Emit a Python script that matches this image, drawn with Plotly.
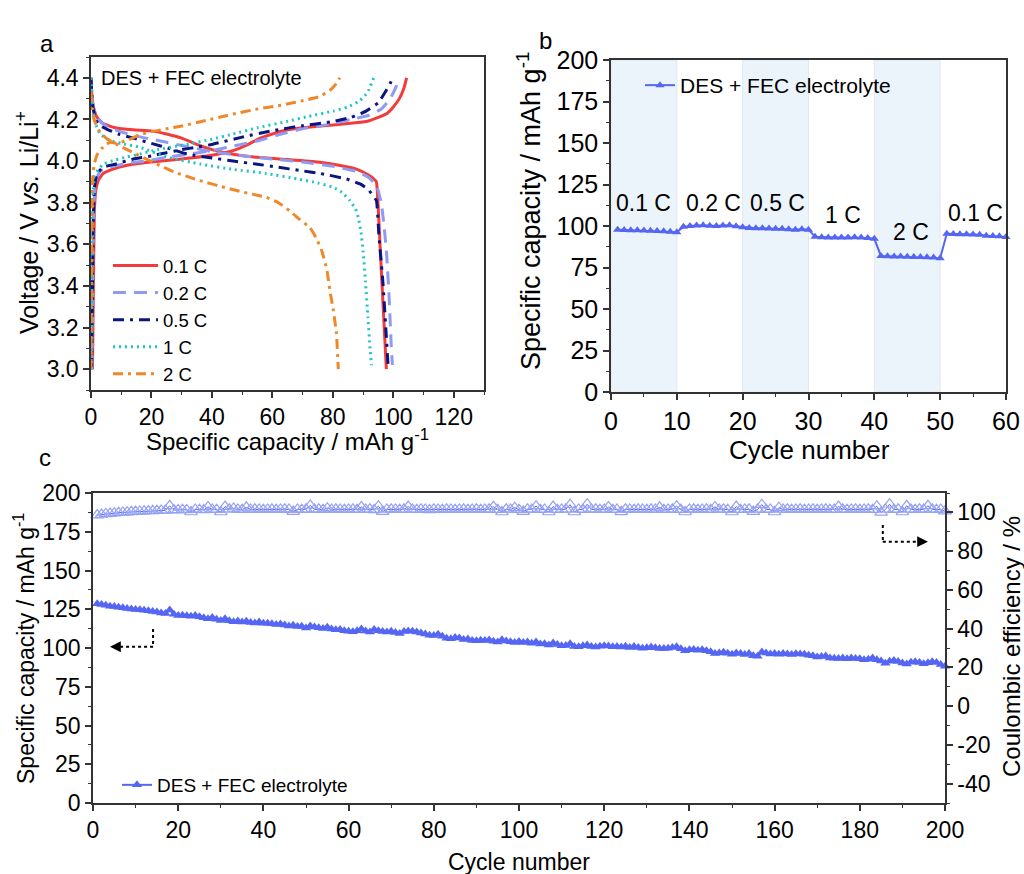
import plotly.graph_objects as go

FONT = "Liberation Sans, Arial, sans-serif"
W, H = 1024, 874

# ---------------- Panel a: charge/discharge profiles ----------------
rates_a = ["0.1 C", "0.2 C", "0.5 C", "1 C", "2 C"]
colors_a = ["#f23b3b", "#8f9bf2", "#0b1580", "#1fc4c8", "#f0882a"]
dash_a = ["solid", "13px,8px", "11px,6px,3px,6px", "2px,4px", "10px,5px,3px,5px"]

chg_x = {
    "0.1 C": [0.5, 0.8, 1.1, 1.6, 2.5, 4, 7, 12, 20, 30, 40, 47, 52, 56, 60, 65, 70, 77, 85, 91, 95, 98, 100, 102, 103.5, 104.4],
    "0.2 C": [0.3, 0.6, 1, 1.5, 3, 6, 12, 18, 25, 32, 40, 48, 56, 63, 70, 78, 86, 92, 96, 99, 101, 101.8],
    "0.5 C": [0.2, 0.5, 0.8, 1.2, 2, 4, 8, 14, 20, 25, 30, 35, 40, 50, 60, 70, 80, 86, 91, 95, 97.7, 99.2, 99.8],
    "1 C": [0.2, 0.4, 0.7, 1.2, 2.5, 4.1, 8, 12, 16.2, 22, 31.6, 40, 47, 55, 64.7, 72, 80.1, 85, 88.9, 91.5, 93.5],
    "2 C": [0, 0.2, 0.5, 1, 2, 3.5, 5, 6.5, 8.5, 12, 16, 19.5, 25, 30.5, 38, 47, 55, 63.6, 70, 75.7, 79, 81, 82.3],
}
chg_y = {
    "0.1 C": [3.0, 3.4, 3.75, 3.86, 3.91, 3.94, 3.96, 3.98, 3.995, 4.01, 4.028, 4.05, 4.08, 4.11, 4.13, 4.15, 4.16, 4.17, 4.18, 4.19, 4.21, 4.23, 4.26, 4.3, 4.35, 4.4],
    "0.2 C": [3.0, 3.5, 3.8, 3.9, 3.95, 3.97, 3.99, 4.0, 4.018, 4.032, 4.05, 4.075, 4.1, 4.13, 4.155, 4.175, 4.2, 4.22, 4.25, 4.3, 4.36, 4.4],
    "0.5 C": [3.0, 3.4, 3.75, 3.88, 3.94, 3.97, 3.985, 4.01, 4.025, 4.04, 4.055, 4.067, 4.08, 4.115, 4.146, 4.17, 4.19, 4.21, 4.24, 4.28, 4.34, 4.38, 4.4],
    "1 C": [3.0, 3.5, 3.85, 3.93, 3.96, 3.986, 4.005, 4.02, 4.034, 4.055, 4.08, 4.105, 4.13, 4.16, 4.19, 4.215, 4.24, 4.26, 4.29, 4.33, 4.4],
    "2 C": [3.0, 3.5, 3.9, 3.98, 4.03, 4.06, 4.08, 4.09, 4.085, 4.1, 4.125, 4.14, 4.155, 4.17, 4.195, 4.226, 4.25, 4.27, 4.29, 4.31, 4.34, 4.37, 4.4],
}
dis_x = {
    "0.1 C": [0, 0.4, 1, 2, 4, 8, 14, 20, 25, 30, 35, 40, 47, 55, 65, 75, 82, 88, 91.5, 93.5, 94.4, 95, 95.6, 96.3, 97, 97.7],
    "0.2 C": [0, 0.5, 1.5, 3, 6, 10, 15, 20, 25, 30, 35, 40, 50, 60, 70, 80, 88, 92, 94.5, 96, 97, 97.8, 98.6, 99.3, 99.7],
    "0.5 C": [0, 0.5, 1.5, 3, 5, 9, 14, 20, 26, 32, 40, 47, 55, 62, 69, 76, 84.5, 89, 91.5, 93, 94.4, 95.2, 96.6, 97.5, 98.3],
    "1 C": [0, 0.5, 1.5, 3, 6, 10, 16.2, 25, 36, 47, 58, 68, 75, 80.1, 83, 85.6, 87.5, 88.4, 89.3, 90, 90.8, 91.6, 92.3, 92.8],
    "2 C": [0, 0.3, 1, 2.5, 5, 8.5, 14, 21.7, 28, 36, 45, 52, 58, 62, 65.8, 69, 72.4, 74.5, 76.3, 78, 79, 80.2, 81.2, 81.8],
}
dis_y = {
    "0.1 C": [4.4, 4.3, 4.25, 4.21, 4.18, 4.16, 4.15, 4.145, 4.13, 4.11, 4.08, 4.055, 4.033, 4.018, 4.007, 3.995, 3.98, 3.96, 3.935, 3.915, 3.9, 3.78, 3.6, 3.4, 3.2, 3.0],
    "0.2 C": [4.4, 4.28, 4.22, 4.19, 4.16, 4.14, 4.12, 4.105, 4.09, 4.075, 4.06, 4.045, 4.025, 4.01, 3.995, 3.975, 3.95, 3.92, 3.88, 3.8, 3.68, 3.55, 3.35, 3.12, 3.02],
    "0.5 C": [4.4, 4.27, 4.2, 4.17, 4.155, 4.13, 4.11, 4.085, 4.06, 4.033, 4.015, 4.0, 3.985, 3.97, 3.955, 3.94, 3.914, 3.89, 3.866, 3.84, 3.81, 3.65, 3.41, 3.2, 3.01],
    "1 C": [4.4, 4.25, 4.18, 4.13, 4.1, 4.085, 4.066, 4.02, 3.986, 3.96, 3.94, 3.915, 3.895, 3.874, 3.85, 3.81, 3.77, 3.73, 3.66, 3.57, 3.42, 3.25, 3.1, 3.02],
    "2 C": [4.33, 4.25, 4.2, 4.15, 4.11, 4.08, 4.04, 3.986, 3.945, 3.906, 3.87, 3.845, 3.826, 3.8, 3.76, 3.72, 3.68, 3.63, 3.57, 3.48, 3.38, 3.28, 3.17, 3.0],
}

# ---------------- Panel b: rate capability ----------------
cycles_b = list(range(1, 61))
cap_b = [97.8, 97.6, 97.5, 97.4, 97.3, 97.2, 97.0, 96.8, 96.6, 96.2,
         99.5, 100.0, 100.3, 100.5, 100.2, 100.0, 100.3, 100.4, 99.8, 99.3,
         98.8, 98.6, 98.7, 98.5, 98.4, 98.3, 98.0, 97.8, 98.0, 97.8,
         93.5, 93.2, 93.0, 93.0, 93.1, 93.0, 93.2, 93.1, 92.8, 92.3,
         82.0, 81.8, 81.7, 81.6, 81.5, 81.4, 81.3, 81.2, 81.0, 80.6,
         95.3, 95.2, 95.1, 95.0, 94.9, 94.7, 94.2, 94.0, 93.8, 93.4]
band_starts = [0, 20, 40]
band_ends = [10, 30, 50]
rate_labels = ["0.1 C", "0.2 C", "0.5 C", "1 C", "2 C", "0.1 C"]
rate_label_x = [4.9, 15.5, 25.3, 35.2, 45.6, 55.4]
rate_label_y = [114, 114, 114, 106.5, 96.5, 108]

# ---------------- Panel c: long-term cycling ----------------
cycles_c = list(range(1, 201))
cap_c = [128.5, 128.0, 127.6, 127.0, 126.8, 126.3, 126.0, 125.5, 125.2, 124.8,
         124.6, 124.3, 124.0, 123.5, 123.2, 122.6, 122.2, 124.5, 121.8, 121.0,
         121.2, 120.8, 120.5, 120.9, 120.2, 119.5, 118.8, 119.6, 118.5, 117.8,
         118.9, 117.6, 117.0, 117.4, 116.8, 117.2, 116.5, 116.2, 116.8, 115.9,
         116.0, 115.6, 115.2, 115.5, 114.8, 114.2, 114.6, 113.8, 114.0, 112.9,
         114.2, 113.5, 113.0, 112.6, 113.4, 112.2, 111.8, 112.0, 111.2, 110.8,
         110.5, 111.2, 112.3, 111.0, 110.4, 112.0, 111.1, 110.6, 110.3, 110.8,
         110.0, 109.4, 110.6, 111.0, 110.8, 110.3, 109.6, 109.0, 108.2, 108.0,
         108.8, 107.6, 106.3, 106.0, 106.8, 106.4, 105.5, 105.8, 104.9, 104.6,
         105.0, 104.8, 105.2, 104.4, 103.8, 105.4, 104.5, 104.0, 103.6, 104.2,
         103.5, 103.8, 103.0, 103.9, 102.6, 102.8, 102.0, 103.2, 102.3, 101.4,
         101.6, 102.8, 101.0, 100.8, 101.4, 101.9, 101.0, 100.6, 101.2, 101.5,
         101.3, 100.8, 101.0, 100.6, 101.2, 100.4, 100.9, 100.3, 99.8, 100.2,
         100.6, 100.1, 99.7, 99.6, 99.9, 100.4, 100.8, 99.5, 98.2, 98.8,
         99.0, 98.6, 98.8, 98.3, 97.6, 96.5, 96.8, 97.2, 96.6, 96.0,
         96.8, 96.4, 95.8, 96.5, 95.0, 94.6, 97.4, 96.8, 96.2, 96.5,
         96.0, 96.4, 96.1, 95.8, 96.3, 96.2, 95.9, 95.4, 95.0, 94.2,
         94.5, 94.8, 93.6, 93.4, 93.2, 93.5, 93.1, 93.6, 93.3, 93.0,
         92.4, 92.8, 93.6, 92.5, 91.6, 90.2, 91.5, 92.0, 91.3, 90.4,
         89.6, 90.8, 91.2, 90.6, 89.8, 90.5, 91.2, 90.6, 89.4, 88.2]
ce_c = [98.6, 98.9, 99.2, 99.4, 99.6, 99.8, 100.0, 100.1, 100.3, 100.4,
        100.5, 100.6, 100.7, 100.8, 100.9, 101.0, 101.0, 103.4, 101.2, 101.3,
        101.4, 101.3, 100.2, 101.5, 101.4, 101.3, 102.8, 101.5, 101.4, 100.2,
        103.0, 101.6, 102.0, 101.5, 101.4, 102.6, 101.5, 101.6, 101.5, 101.4,
        101.5, 101.6, 101.4, 101.5, 101.6, 101.5, 100.4, 101.5, 101.4, 101.6,
        103.6, 101.5, 101.6, 101.4, 102.2, 101.5, 101.6, 101.5, 101.4, 101.5,
        101.6, 101.4, 102.8, 101.5, 101.6, 101.3, 103.2, 100.4, 101.5, 101.6,
        101.5, 101.4, 101.6, 103.0, 101.5, 101.4, 101.6, 101.5, 101.3, 101.6,
        101.5, 101.4, 101.6, 101.5, 101.4, 101.5, 101.6, 101.4, 101.5, 101.6,
        101.4, 101.5, 101.6, 102.9, 101.4, 100.2, 101.6, 101.5, 102.4, 101.4,
        100.4, 101.6, 101.5, 103.2, 101.4, 101.5, 100.2, 103.0, 101.4, 101.5,
        101.6, 104.0, 100.2, 101.5, 101.4, 104.2, 101.5, 101.6, 101.4, 101.5,
        102.8, 101.4, 101.5, 100.3, 101.6, 101.5, 101.4, 101.6, 101.5, 101.4,
        101.6, 101.5, 102.6, 101.4, 101.5, 101.6, 103.2, 101.4, 100.2, 101.5,
        101.6, 101.4, 101.5, 101.6, 101.4, 102.8, 101.5, 101.6, 101.4, 100.2,
        103.0, 101.4, 101.5, 101.6, 100.4, 101.5, 104.0, 101.4, 101.5, 100.2,
        102.4, 101.5, 101.6, 101.4, 101.5, 101.6, 101.4, 101.5, 101.6, 101.4,
        101.5, 101.6, 101.4, 101.5, 103.0, 101.6, 101.4, 101.5, 101.6, 101.4,
        101.5, 101.6, 101.4, 103.2, 100.0, 101.5, 104.2, 101.4, 101.6, 100.2,
        103.4, 101.5, 101.4, 101.6, 101.5, 103.4, 101.6, 101.4, 101.5, 100.6]
ce_tickvals = [-40, -20, 0, 20, 40, 60, 80, 100]
ce_ticktext = ["-40", "-20", "0", "20", "40", "60", "80", "100"]

BLUE = "#5566f2"
BLUE_LIGHT = "#95a2f4"
AXC = "#333333"

fig = go.Figure()

# Panel a traces
for i, r in enumerate(rates_a):
    xs = chg_x[r] + [None] + dis_x[r]
    ys = chg_y[r] + [None] + dis_y[r]
    fig.add_trace(go.Scatter(
        x=xs, y=ys, mode="lines", name=r, xaxis="x", yaxis="y",
        line=dict(color=colors_a[i], width=3, dash=dash_a[i], shape="spline", smoothing=0.4),
        connectgaps=False, legend="legend"))

# Panel b
for s, e in zip(band_starts, band_ends):
    fig.add_shape(type="rect", xref="x2", yref="y2", x0=s, x1=e, y0=0, y1=200,
                  fillcolor="#ebf3fb", line=dict(width=1, color="#e3e8ee"), layer="below")
fig.add_trace(go.Scatter(
    x=cycles_b, y=cap_b, mode="lines+markers", name="DES + FEC electrolyte",
    xaxis="x2", yaxis="y2", legend="legend2", cliponaxis=False,
    line=dict(color=BLUE, width=2), marker=dict(symbol="triangle-up", size=8, color=BLUE)))
for t, lx, ly in zip(rate_labels, rate_label_x, rate_label_y):
    fig.add_annotation(x=lx, y=ly, xref="x2", yref="y2", text=t, showarrow=False,
                       font=dict(family=FONT, size=23, color="black"))

# Panel c
fig.add_trace(go.Scatter(
    x=cycles_c, y=ce_c, mode="lines+markers", name="CE", showlegend=False,
    xaxis="x3", yaxis="y4", cliponaxis=False,
    line=dict(color=BLUE, width=1),
    marker=dict(symbol="triangle-up-open", size=11, color=BLUE_LIGHT, line=dict(width=1.2))))
fig.add_trace(go.Scatter(
    x=cycles_c, y=cap_c, mode="lines+markers", name="DES + FEC electrolyte",
    xaxis="x3", yaxis="y3", legend="legend3", cliponaxis=False,
    line=dict(color=BLUE, width=2), marker=dict(symbol="triangle-up", size=9, color=BLUE)))

# dotted arrows in panel c
dot = dict(color="black", width=2, dash="dot")
fig.add_shape(type="line", xref="x3", yref="y3", x0=14.1, x1=14.1, y0=112.3, y1=100.8, line=dot)
fig.add_shape(type="line", xref="x3", yref="y3", x0=14.1, x1=5.5, y0=100.8, y1=100.8, line=dot)
fig.add_annotation(x=4.0, y=100.8, xref="x3", yref="y3", ax=8, ay=0, text="", showarrow=True,
                   arrowhead=2, arrowsize=1.2, arrowwidth=1.8, arrowcolor="black")
fig.add_shape(type="line", xref="x3", yref="y3", x0=185.4, x1=185.4, y0=179.4, y1=168.6, line=dot)
fig.add_shape(type="line", xref="x3", yref="y3", x0=185.4, x1=194.5, y0=168.6, y1=168.6, line=dot)
fig.add_annotation(x=196.0, y=168.6, xref="x3", yref="y3", ax=-8, ay=0, text="", showarrow=True,
                   arrowhead=2, arrowsize=1.2, arrowwidth=1.8, arrowcolor="black")


def px(x):
    return x / W


def py(y):
    return 1 - y / H


def ax_style(size, minor_dtick, **kw):
    d = dict(showline=True, linecolor=AXC, linewidth=1.5, mirror=True, ticks="outside",
             ticklen=6, tickwidth=1.5, tickcolor=AXC, showgrid=False, zeroline=False,
             automargin=False,
             tickfont=dict(family=FONT, size=size, color="black"),
             minor=dict(ticks="outside", ticklen=3, tickwidth=1.2, tickcolor=AXC, showgrid=False,
                        tickmode="linear", tick0=0, dtick=minor_dtick))
    d.update(kw)
    return d


layout = dict(
    width=W, height=H, margin=dict(l=0, r=0, t=0, b=0, autoexpand=False),
    paper_bgcolor="white", plot_bgcolor="white",
    font=dict(family=FONT, color="black"),
    xaxis=ax_style(23, 10, domain=[px(91), px(484)], range=[0, 130], dtick=20, anchor="y"),
    yaxis=ax_style(23, 0.1, domain=[py(390), py(57)], range=[2.9, 4.5], dtick=0.2, tick0=3.0,
                   anchor="x", tickformat=".1f"),
    xaxis2=ax_style(25, 5, domain=[px(611), px(1006)], range=[0, 60], dtick=10, anchor="y2"),
    yaxis2=ax_style(25, 12.5, domain=[py(392), py(60)], range=[0, 200], dtick=25, anchor="x2"),
    xaxis3=ax_style(23, 10, domain=[px(93), px(945)], range=[0, 200], dtick=20, anchor="y3"),
    yaxis3=ax_style(23, 12.5, domain=[py(803), py(493)], range=[0, 200], dtick=25, anchor="x3",
                    mirror=False),
    yaxis4=ax_style(23, 10, range=[-50, 110], tickmode="array", tickvals=ce_tickvals,
                    ticktext=ce_ticktext, overlaying="y3", side="right", anchor="x3",
                    mirror=False),
    legend=dict(x=px(108), y=py(247), xanchor="left", yanchor="top", itemwidth=45,
                bgcolor="rgba(0,0,0,0)", font=dict(family=FONT, size=18.5), tracegroupgap=0),
    legend2=dict(x=px(640), y=py(65), xanchor="left", yanchor="top",
                 bgcolor="rgba(0,0,0,0)", font=dict(family=FONT, size=21)),
    legend3=dict(x=px(117), y=py(766), xanchor="left", yanchor="top",
                 bgcolor="rgba(0,0,0,0)", font=dict(family=FONT, size=19)),
)
fig.update_layout(**layout)

ann = [
    dict(text="a", x=px(38), y=py(28), size=24),
    dict(text="b", x=px(545), y=py(25), size=24),
    dict(text="c", x=px(37), y=py(457), size=24),
]
for a in ann:
    fig.add_annotation(x=a["x"], y=a["y"], xref="paper", yref="paper", text=a["text"],
                       showarrow=False, font=dict(family=FONT, size=a["size"], color="black"))

titles = [
    dict(text="Specific capacity / mAh g<sup>-1</sup>", x=287, y=440, size=24, angle=0),
    dict(text="Voltage / V <i>vs.</i> Li/Li<sup>+</sup>", x=27, y=223, size=25, angle=-90),
    dict(text="Specific capacity / mAh g<sup>-1</sup>", x=529, y=211, size=27, angle=-90),
    dict(text="Cycle number", x=809, y=450, size=26, angle=0),
    dict(text="Specific capacity / mAh g<sup>-1</sup>", x=24, y=649, size=23, angle=-90),
    dict(text="Coulombic efficiency / %", x=1011, y=647, size=24, angle=-90),
    dict(text="Cycle number", x=519, y=862, size=23, angle=0),
]
for t in titles:
    fig.add_annotation(x=px(t["x"]), y=py(t["y"]), xref="paper", yref="paper", text=t["text"],
                       textangle=t["angle"], showarrow=False, xanchor="center", yanchor="middle",
                       font=dict(family=FONT, size=t["size"], color="black"))

fig.add_annotation(x=2.6, y=4.4, xref="x", yref="y", text="DES + FEC electrolyte",
                   showarrow=False, xanchor="left", yanchor="middle",
                   font=dict(family=FONT, size=20, color="black"))

fig.write_html("out.html")
